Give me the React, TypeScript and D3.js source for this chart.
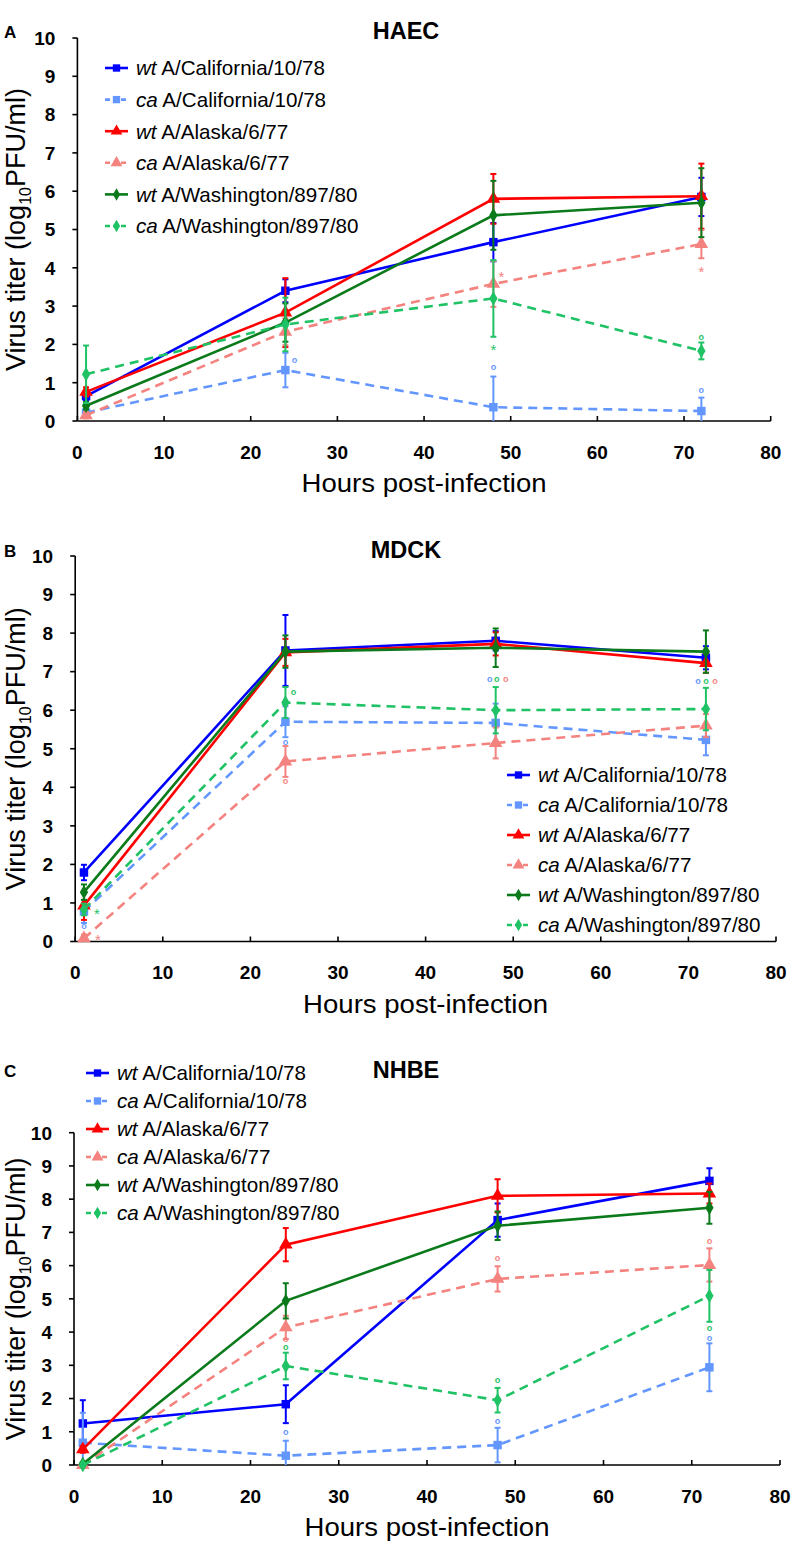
import React from "react";
import * as d3 from "d3";

// ---------- data ----------
const hours = [1, 24, 48, 72];
const xTicks = [0, 10, 20, 30, 40, 50, 60, 70, 80];
const yTicks = [0, 1, 2, 3, 4, 5, 6, 7, 8, 9, 10];

const seriesKind = ["wt", "ca", "wt", "ca", "wt", "ca"];
const seriesStrain = [
  "A/California/10/78",
  "A/California/10/78",
  "A/Alaska/6/77",
  "A/Alaska/6/77",
  "A/Washington/897/80",
  "A/Washington/897/80",
];

// order: wtCal, caCal, wtAk, caAk, wtWa, caWa
const haecMean = [
  [0.65, 3.4, 4.67, 5.85],
  [0.22, 1.33, 0.36, 0.26],
  [0.76, 2.83, 5.8, 5.87],
  [0.15, 2.33, 3.58, 4.62],
  [0.4, 2.57, 5.37, 5.7],
  [1.22, 2.52, 3.2, 1.83],
];
const haecErr = [
  [0.1, 0.3, 0.5, 0.5],
  [0.1, 0.45, 0.8, 0.35],
  [0.12, 0.9, 0.65, 0.85],
  [0.08, 0.35, 0.6, 0.37],
  [0.1, 0.5, 0.9, 0.9],
  [0.75, 0.7, 1.0, 0.22],
];
const mdckMean = [
  [1.79, 7.55, 7.8, 7.36],
  [0.78, 5.7, 5.67, 5.23],
  [0.93, 7.5, 7.72, 7.22],
  [0.08, 4.67, 5.15, 5.6],
  [1.28, 7.52, 7.62, 7.52],
  [0.83, 6.2, 6.0, 6.03],
];
const mdckErr = [
  [0.2, 0.92, 0.25, 0.3],
  [0.3, 0.4, 0.5, 0.4],
  [0.37, 0.35, 0.3, 0.25],
  [0.1, 0.4, 0.4, 0.3],
  [0.2, 0.42, 0.5, 0.55],
  [0.15, 0.4, 0.6, 0.55],
];
const nhbeMean = [
  [1.25, 1.83, 7.37, 8.55],
  [0.67, 0.28, 0.6, 2.94],
  [0.47, 6.63, 8.1, 8.17],
  [0.0, 4.14, 5.6, 6.02],
  [0.03, 4.94, 7.2, 7.74],
  [0.0, 2.98, 1.95, 5.09],
];
const nhbeErr = [
  [0.7, 0.57, 0.5, 0.38],
  [0.9, 0.45, 0.52, 0.72],
  [0.1, 0.5, 0.5, 0.3],
  [0.05, 0.35, 0.38, 0.5],
  [0.05, 0.53, 0.43, 0.48],
  [0.05, 0.4, 0.37, 0.78],
];

// significance marks: [hour, value, symbol, series index]
const haecMarks: [number, number, string, number][] = [
  [24, 1.57, "o", 1],
  [48, 3.86, "*", 3],
  [48, 1.94, "*", 5],
  [48, 1.4, "o", 1],
  [72, 3.99, "*", 3],
  [72, 2.19, "o", 5],
  [72, 0.79, "o", 1],
];
const haecMarkShift = [9, 8, 0, 0, 0, 0, 0];
const mdckMarks: [number, number, string, number][] = [
  [1, 0.8, "*", 5],
  [1, 0.13, "*", 3],
  [1, 0.4, "o", 1],
  [24, 4.15, "o", 3],
  [24, 6.45, "o", 5],
  [24, 5.15, "o", 1],
  [48, 6.79, "o", 1],
  [48, 6.79, "o", 5],
  [48, 6.79, "o", 3],
  [72, 6.73, "o", 1],
  [72, 6.73, "o", 5],
  [72, 6.73, "o", 3],
];
const mdckMarkShift = [13, 14, 0, 0, 8, 0, -6, 1, 10, -8, 0, 9];
const nhbeMarks: [number, number, string, number][] = [
  [24, 3.76, "o", 3],
  [24, 3.53, "o", 5],
  [24, 0.97, "o", 1],
  [48, 6.2, "o", 3],
  [48, 2.54, "o", 5],
  [48, 1.3, "o", 1],
  [72, 6.72, "o", 3],
  [72, 4.11, "o", 5],
  [72, 3.81, "o", 1],
];
const nhbeMarkShift = [0, 0, 0, 0, 0, 0, 0, 0, 0];

// ---------- styles ----------
const colors = ["#0000ff", "#6397ff", "#ff0000", "#f4827e", "#0b7a1b", "#1fc264"];
const dashed = [false, true, false, true, false, true];
const shapes = [d3.symbolSquare, d3.symbolSquare, d3.symbolTriangle, d3.symbolTriangle, d3.symbolDiamond, d3.symbolDiamond];
const shapeSize = [72, 72, 80, 80, 60, 60];
const FONT = "Arial, 'Liberation Sans', Helvetica, sans-serif";

type PanelCfg = {
  letter: string;
  title: string;
  mean: number[][];
  err: number[][];
  marks: [number, number, string, number][];
  shift: number[];
  x0: number;
  x1: number;
  yTop: number;
  yBot: number;
  letterY: number;
  titleY: number;
  legend: { x: number; y: number; step: number };
};

const panels: PanelCfg[] = [
  {
    letter: "A", title: "HAEC", mean: haecMean, err: haecErr, marks: haecMarks, shift: haecMarkShift,
    x0: 77.4, x1: 770.7, yTop: 38, yBot: 421, letterY: 38, titleY: 39,
    legend: { x: 105, y: 68, step: 31.6 },
  },
  {
    letter: "B", title: "MDCK", mean: mdckMean, err: mdckErr, marks: mdckMarks, shift: mdckMarkShift,
    x0: 75.2, x1: 776, yTop: 556, yBot: 941.5, letterY: 557, titleY: 558,
    legend: { x: 507, y: 775, step: 30 },
  },
  {
    letter: "C", title: "NHBE", mean: nhbeMean, err: nhbeErr, marks: nhbeMarks, shift: nhbeMarkShift,
    x0: 74, x1: 780, yTop: 1132.7, yBot: 1465, letterY: 1077, titleY: 1078,
    legend: { x: 86, y: 1073, step: 28 },
  },
];

function Panel({ cfg }: { cfg: PanelCfg }) {
  const x = d3.scaleLinear().domain([0, 80]).range([cfg.x0, cfg.x1]);
  const y = d3.scaleLinear().domain([0, 10]).range([cfg.yBot, cfg.yTop]);
  const line = d3
    .line<number>()
    .x((_, i) => x(hours[i]))
    .y((d) => y(d));
  const midY = (cfg.yTop + cfg.yBot) / 2;
  const midX = (cfg.x0 + cfg.x1) / 2;
  const cap = 3;
  return (
    <g>
      {/* panel letter & title */}
      <text x={4} y={cfg.letterY} fontFamily={FONT} fontWeight="bold" fontSize={17}>
        {cfg.letter}
      </text>
      <text x={406} y={cfg.titleY} fontFamily={FONT} fontWeight="bold" fontSize={23.5} textAnchor="middle">
        {cfg.title}
      </text>

      {/* axes */}
      <line x1={cfg.x0} x2={cfg.x0} y1={cfg.yTop} y2={cfg.yBot} stroke="#000" strokeWidth={1.6} />
      <line x1={cfg.x0} x2={cfg.x1} y1={cfg.yBot} y2={cfg.yBot} stroke="#000" strokeWidth={1.6} />
      {yTicks.map((t) => (
        <g key={"yt" + t}>
          <line x1={cfg.x0 - 5} x2={cfg.x0} y1={y(t)} y2={y(t)} stroke="#000" strokeWidth={1.6} />
          <text x={cfg.x0 - 22} y={y(t)} dy="0.36em" textAnchor="end" fontFamily={FONT} fontWeight="bold" fontSize={19}>
            {t}
          </text>
        </g>
      ))}
      {xTicks.map((t) => (
        <g key={"xt" + t}>
          <line x1={x(t)} x2={x(t)} y1={cfg.yBot - 5} y2={cfg.yBot} stroke="#000" strokeWidth={1.6} />
          <text x={x(t)} y={cfg.yBot + 31} dy="0.36em" textAnchor="middle" fontFamily={FONT} fontWeight="bold" fontSize={19}>
            {t}
          </text>
        </g>
      ))}
      <text
        transform={`translate(${midX},${cfg.yBot + 62}) scale(1.06,1)`}
        dy="0.36em"
        textAnchor="middle"
        fontFamily={FONT}
        fontSize={26}
      >
        Hours post-infection
      </text>
      <text
        transform={`translate(25,${midY}) rotate(-90)`}
        textAnchor="middle"
        fontFamily={FONT}
        fontSize={27}
      >
        Virus titer (log
        <tspan fontSize={16} dy={6}>10</tspan>
        <tspan dy={-6}>PFU/ml)</tspan>
      </text>

      {/* series */}
      {cfg.mean.map((vals, s) => (
        <g key={"s" + s}>
          <path
            d={line(vals) || ""}
            fill="none"
            stroke={colors[s]}
            strokeWidth={2.6}
            strokeDasharray={dashed[s] ? "9,6" : undefined}
          />
          {vals.map((v, i) => {
            const e = cfg.err[s][i];
            const lo = Math.max(0, v - e);
            const hi = v + e;
            return (
              <g key={"e" + i} stroke={colors[s]} strokeWidth={2}>
                <line x1={x(hours[i])} x2={x(hours[i])} y1={y(lo)} y2={y(hi)} />
                <line x1={x(hours[i]) - cap} x2={x(hours[i]) + cap} y1={y(hi)} y2={y(hi)} />
                {v - e > 0 && <line x1={x(hours[i]) - cap} x2={x(hours[i]) + cap} y1={y(lo)} y2={y(lo)} />}
              </g>
            );
          })}
          {vals.map((v, i) => (
            <path
              key={"m" + i}
              d={d3.symbol().type(shapes[s]).size(shapeSize[s])() || ""}
              transform={`translate(${x(hours[i])},${y(v)})`}
              fill={colors[s]}
            />
          ))}
        </g>
      ))}

      {/* significance marks */}
      {cfg.marks.map(([h, v, sym, s], i) => {
        const isStar = sym === "*";
        const fs = isStar ? 15 : 9;
        return (
          <text
            key={"mk" + i}
            x={x(h) + cfg.shift[i]}
            y={y(v) + (isStar ? 0.58 : 0.27) * fs}
            textAnchor="middle"
            fontFamily={FONT}
            fontWeight={isStar ? "normal" : "bold"}
            fontSize={fs}
            fill={colors[s]}
          >
            {sym}
          </text>
        );
      })}

      {/* legend */}
      {seriesKind.map((k, s) => {
        const ly = cfg.legend.y + s * cfg.legend.step;
        const lx = cfg.legend.x;
        return (
          <g key={"lg" + s}>
            <line
              x1={lx}
              x2={lx + 23}
              y1={ly}
              y2={ly}
              stroke={colors[s]}
              strokeWidth={2.6}
              strokeDasharray={dashed[s] ? "5,3" : undefined}
            />
            <path
              d={d3.symbol().type(shapes[s]).size(shapeSize[s] * 0.75)() || ""}
              transform={`translate(${lx + 11.5},${ly})`}
              fill={colors[s]}
            />
            <text x={lx + 31} y={ly} dy="0.36em" fontFamily={FONT} fontSize={20.6}>
              <tspan fontStyle="italic">{k}</tspan> {seriesStrain[s]}
            </text>
          </g>
        );
      })}
    </g>
  );
}

export default function App() {
  return (
    <svg width={800} height={1544} style={{ display: "block", position: "absolute", left: 0, top: 0, background: "#fff" }}>
      <rect width={800} height={1544} fill="#fff" />
      {panels.map((p) => (
        <Panel key={p.letter} cfg={p} />
      ))}
    </svg>
  );
}
